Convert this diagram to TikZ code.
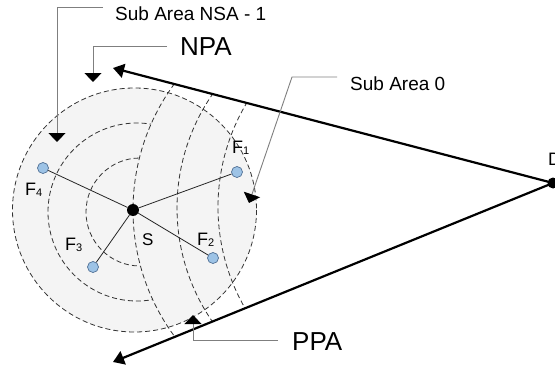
\documentclass[tikz,border=0pt]{standalone}
\usepackage{fontspec}
\setmainfont{Liberation Sans}
\usetikzlibrary{arrows.meta}

\definecolor{areafill}{HTML}{F4F4F4}
\definecolor{ringcol}{HTML}{333333}
\definecolor{fnodefill}{HTML}{9DC3E6}
\definecolor{fnodeline}{HTML}{4F6F94}
\definecolor{leadercol}{HTML}{7F7F7F}

\newcommand{\fsub}[1]{F\raisebox{-1pt}{\fontsize{11}{11}\selectfont #1}}

\begin{document}
\begin{tikzpicture}[x=1pt, y=1pt, yscale=-1,
  ring/.style={draw=ringcol, line width=0.8pt, dash pattern=on 5pt off 3pt},
  fnode/.style={circle, draw=fnodeline, fill=fnodefill, line width=0.7pt,
    minimum size=11pt, inner sep=0pt},
  hub/.style={circle, fill=black, minimum size=12pt, inner sep=0pt},
  dest/.style={circle, fill=black, minimum size=11pt, inner sep=0pt},
  spoke/.style={line width=0.8pt, draw=black!85},
  mainray/.style={line width=2.2pt, -{Triangle[width=14pt,length=11pt]}},
  leaderline/.style={draw=leadercol, line width=0.9pt,
    -{Triangle[width=17pt,length=9pt,color=black]}},
  lbl/.style={font=\fontsize{19}{19}\selectfont, inner sep=0pt, anchor=base west},
  biglbl/.style={font=\fontsize{26}{26}\selectfont, inner sep=0pt, anchor=base west},
  flbl/.style={font=\fontsize{18}{18}\selectfont, inner sep=0pt, anchor=base west}]

\useasboundingbox (0,0) rectangle (555,372);

% shaded search area around the source
\fill[areafill] (134.5,210) circle[radius=122];

% sub-area boundaries: arcs bounded by the two rays
\begin{scope}
  \clip (113,68) -- (553,183) -- (113,362) -- cycle;
  \draw[ring] (346,210) ++(225:213) arc[start angle=225, end angle=135, radius=213];
  \draw[ring] (377,208) ++(222:200) arc[start angle=222, end angle=138, radius=200];
  \draw[ring] (421,207) ++(218:203) arc[start angle=218, end angle=142, radius=203];
\end{scope}

% inner rings, cut off by the first sub-area boundary
\begin{scope}
  \clip (0,-50) -- (239.5,-50) -- (239.5,25.5)
        arc[start angle=240, end angle=120, radius=213]
        -- (239.5,420) -- (0,420) -- cycle;
  \draw[ring] (137,212) circle[radius=89];
  \draw[ring] (140,212) circle[radius=54];
\end{scope}

% outer boundary of the area
\draw[ring] (134.5,210) circle[radius=122];

% source, sensors and destination
\node[hub] (S) at (133,210) {};
\node[fnode] (F1) at (237,172) {};
\node[fnode] (F2) at (213,258) {};
\node[fnode] (F3) at (93,267) {};
\node[fnode] (F4) at (43,168) {};
\node[dest] (D) at (553,183) {};

% spokes from the source to each sensor
\draw[spoke] (S) -- (F1);
\draw[spoke] (S) -- (F2);
\draw[spoke] (S) -- (F3);
\draw[spoke] (S) -- (F4);

% rays from D
\coordinate (npaTip) at (113,68);
\coordinate (ppaTip) at (113,362);
\draw[mainray] (D.center) -- (npaTip);
\draw[mainray] (D.center) -- (ppaTip);

% labels
\node[flbl] (F1lbl) at (232,153) {\fsub{1}};
\node[flbl] (F2lbl) at (197,245) {\fsub{2}};
\node[flbl] (F3lbl) at (65,250) {\fsub{3}};
\node[flbl] (F4lbl) at (25,195) {\fsub{4}};
\node[font=\fontsize{17}{17}\selectfont, inner sep=0pt, anchor=base west] (Slbl) at (142,245) {S};
\node[flbl] (Dlbl) at (548,165) {D};

\node[lbl] (nsaLbl) at (115,20) {Sub Area NSA - 1};
\node[biglbl] (npaLbl) at (180,55) {NPA};
\node[lbl] (sa0Lbl) at (350,90) {Sub Area 0};
\node[biglbl] (ppaLbl) at (292,350) {PPA};

% callout leaders
\coordinate (nsaStart) at (103,7);
\coordinate (nsaBend) at (57,7);
\coordinate (nsaTip) at (57,142);
\draw[leaderline] (nsaStart) -- (nsaBend) -- (nsaTip);

\coordinate (npaStart) at (167,46);
\coordinate (npaBend) at (93,46);
\coordinate (npaArrow) at (93,82);
\draw[leaderline] (npaStart) -- (npaBend) -- (npaArrow);

\coordinate (sa0Start) at (337,77);
\coordinate (sa0Bend) at (292,77);
\coordinate (sa0Tip) at (249,203);
\draw[leaderline] (sa0Start) -- (sa0Bend) -- (sa0Tip);

\coordinate (ppaStart) at (278,340);
\coordinate (ppaBend) at (193,340);
\coordinate (ppaArrow) at (193,315);
\draw[leaderline] (ppaStart) -- (ppaBend) -- (ppaArrow);

\end{tikzpicture}
\end{document}
